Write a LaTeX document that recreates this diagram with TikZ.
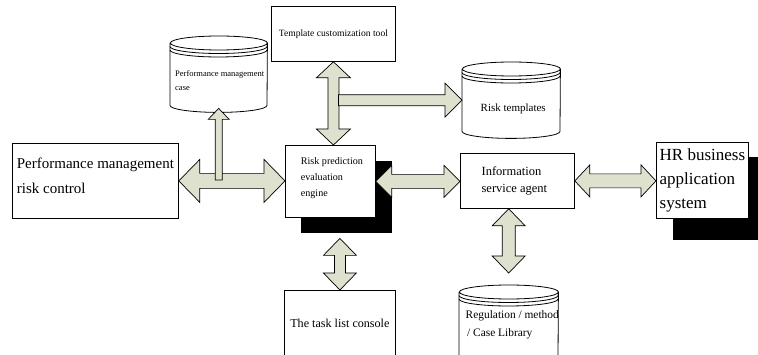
\documentclass[tikz,border=0pt]{standalone}
\usepackage{fontspec}
\setmainfont{Liberation Serif}
\usetikzlibrary{calc}

\definecolor{arrowfill}{RGB}{221,225,205}

\tikzset{
  plainbox/.style={draw, fill=white, line width=0.8pt, inner sep=0, anchor=north west},
  boxshadow/.style={fill=black, inner sep=0, anchor=north west},
  drumbox/.style={inner sep=0, anchor=north west},
  fatarrow/.style={draw, fill=arrowfill, line width=0.7pt, line join=miter},
  lbl/.style={inner sep=0, align=left},
}

% database drum: name, left, top, width, height
\newcommand{\drum}[5]{
  \node[drumbox, minimum width=#4, minimum height=#5] (#1) at (#2,#3) {};
  \draw[fill=white, line width=0.8pt] ([yshift=-7pt]#1.north west) -- ([yshift=7pt]#1.south west)
    arc[start angle=180, end angle=360, x radius=#4/2, y radius=7pt]
    -- ([yshift=-7pt]#1.north east)
    arc[start angle=0, end angle=360, x radius=#4/2, y radius=7pt];
  \foreach \d in {10.5,14} {
    \draw[line width=0.8pt] ([yshift=-\d pt]#1.north west)
      arc[start angle=180, end angle=360, x radius=#4/2, y radius=7pt];
  }
}
% fat double arrow, left to right: from, to, shaft half, head half, head length
\newcommand{\fathboth}[5]{
  \draw[fatarrow] let \p1=(#1), \p2=(#2) in
    (\x1,\y1) -- (\x1+#5,\y1+#4) -- (\x1+#5,\y1+#3) -- (\x2-#5,\y1+#3) -- (\x2-#5,\y1+#4)
    -- (\x2,\y1) -- (\x2-#5,\y1-#4) -- (\x2-#5,\y1-#3) -- (\x1+#5,\y1-#3) -- (\x1+#5,\y1-#4) -- cycle;
}
% fat double arrow, top to bottom (x taken from the lower end)
\newcommand{\fatvboth}[5]{
  \draw[fatarrow] let \p1=(#1), \p2=(#2) in
    (\x2,\y1) -- (\x2+#4,\y1-#5) -- (\x2+#3,\y1-#5) -- (\x2+#3,\y2+#5) -- (\x2+#4,\y2+#5)
    -- (\x2,\y2) -- (\x2-#4,\y2+#5) -- (\x2-#3,\y2+#5) -- (\x2-#3,\y1-#5) -- (\x2-#4,\y1-#5) -- cycle;
}
% fat single arrows: base, tip, shaft half, head half, head length
\newcommand{\fatup}[5]{
  \draw[fatarrow] let \p1=(#1), \p2=(#2) in
    (\x2,\y2) -- (\x2+#4,\y2-#5) -- (\x2+#3,\y2-#5) -- (\x2+#3,\y1)
    -- (\x2-#3,\y1) -- (\x2-#3,\y2-#5) -- (\x2-#4,\y2-#5) -- cycle;
}
\newcommand{\fatright}[5]{
  \draw[fatarrow] let \p1=(#1), \p2=(#2) in
    (\x2,\y2) -- (\x2-#5,\y2+#4) -- (\x2-#5,\y2+#3) -- (\x1,\y2+#3)
    -- (\x1,\y2-#3) -- (\x2-#5,\y2-#3) -- (\x2-#5,\y2-#4) -- cycle;
}

\begin{document}
\begin{tikzpicture}[x=1pt, y=-1pt]
  \clip (0,0) rectangle (758,355);

  % shadows
  \node[boxshadow, minimum width=91pt, minimum height=72pt] (rpeshade) at (301,161) {};
  \node[boxshadow, minimum width=92pt, minimum height=83pt] (hrshade) at (673,157) {};

  % boxes
  \node[plainbox, minimum width=124pt, minimum height=55pt, font=\fontsize{9.6}{12}\selectfont] (tmpl) at (271,6) {Template customization tool};
  \node[plainbox, minimum width=166pt, minimum height=75pt] (pmrc) at (12,143) {};
  \node[plainbox, minimum width=90pt, minimum height=72pt] (rpe) at (285,145) {};
  \node[plainbox, minimum width=114pt, minimum height=55pt] (info) at (460,153) {};
  \node[plainbox, minimum width=92pt, minimum height=76pt, align=left, font=\fontsize{17}{24}\selectfont] (hr) at (656,142) {HR business\\application\\system};
  \node[plainbox, minimum width=111pt, minimum height=65pt, font=\fontsize{12.1}{15}\selectfont] (task) at (284,290) {The task list console};

  % databases
  \drum{pmc}{170}{36}{97pt}{76pt}
  \drum{rt}{462}{62}{98pt}{76pt}
  \drum{reg}{459}{285}{99pt}{80pt}

  % texts
  \node[lbl, font=\fontsize{15}{25}\selectfont] (pmrctext) at ([yshift=5pt]pmrc.center) {Performance management\\risk control};
  \node[lbl, font=\fontsize{10.1}{16}\selectfont] (rpetext) at ([shift={(1.5pt,3pt)}]rpe.center) {Risk prediction\\evaluation\\engine};
  \node[lbl, font=\fontsize{12.5}{17}\selectfont] (infotext) at ([xshift=-3pt]info.center) {Information\\service agent};
  \node[lbl, font=\fontsize{11}{13}\selectfont] (rttext) at ([shift={(2pt,-9pt)}]rt.center) {Risk templates};
  \node[lbl, font=\fontsize{8.5}{13.6}\selectfont] (pmctext) at ([shift={(1pt,-6.5pt)}]pmc.center) {Performance management\\case};
  \node[lbl, font=\fontsize{11.4}{18}\selectfont, anchor=west] (regtext) at ([xshift=6.5pt]reg.west) {Regulation / method\\\hspace{1.5pt}/ Case Library};

  % connectors
  \coordinate (pfork) at (219.5,180);
  \coordinate (tfork) at (338.5,100);
  \fathboth{pmrc.east}{rpe.west}{7.5pt}{21.5pt}{21pt}
  \fatup{pfork}{[yshift=4pt]pmc.south}{3.5pt}{10.5pt}{11pt}
  \fathboth{rpe.east}{info.west}{7pt}{16pt}{16pt}
  \fathboth{info.east}{hr.west}{7pt}{16pt}{15pt}
  \fatvboth{tmpl.south}{tmpl.south |- rpe.north}{5.5pt}{17pt}{16pt}
  \fatright{tfork}{rt.west}{5.5pt}{17pt}{17pt}
  \fatvboth{[yshift=-5pt]rpeshade.south}{task.north}{5.5pt}{16.5pt}{17pt}
  \fatvboth{info.south}{[yshift=12pt]reg.north}{6.5pt}{16.5pt}{17pt}
\end{tikzpicture}
\end{document}
